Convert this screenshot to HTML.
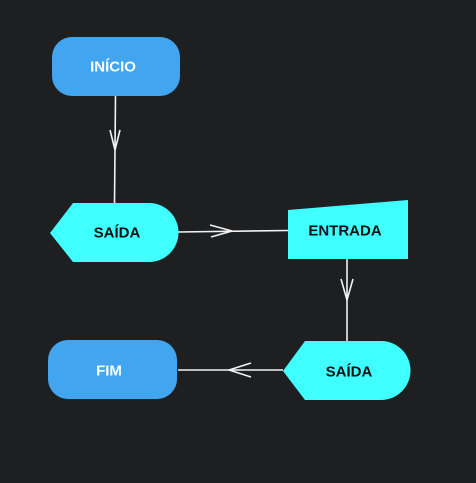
<!DOCTYPE html>
<html><head><style>
html,body{margin:0;padding:0;background:#1e1f21;width:476px;height:483px;overflow:hidden}
svg text{font-family:"Liberation Sans","DejaVu Sans",sans-serif;font-weight:bold;font-size:15px;text-anchor:middle;dominant-baseline:central}
</style></head><body>
<svg width="476" height="483" viewBox="0 0 476 483">
<rect width="476" height="483" fill="#1e1f21"/>
<g stroke="#f2f2f2" stroke-width="1.6" fill="none">
<line x1="115.5" y1="96" x2="114.5" y2="203"/>
<polyline points="110,130 115,150 120,130"/>
<line x1="178" y1="232" x2="288" y2="230.5"/>
<polyline points="210,225 232,231 211,237"/>
<line x1="347" y1="259" x2="347" y2="341"/>
<polyline points="341,279 347,300 353,279"/>
<line x1="283" y1="370" x2="178" y2="370"/>
<polyline points="251,363 229,370 251,377"/>
</g>
<rect x="52" y="37" width="128" height="59" rx="20" fill="#42a5f0"/>
<text x="113" y="67" fill="#fff">INÍCIO</text>
<path d="M50,233 L73,203 L149,203 A29.5,29.5 0 0 1 149,262 L73,262 Z" fill="#40ffff"/>
<text x="117" y="233" fill="#111">SAÍDA</text>
<path d="M288,210 L408,200 L408,259 L288,259 Z" fill="#40ffff"/>
<text x="345" y="231" fill="#111">ENTRADA</text>
<path d="M283,371 L305,341 L381,341 A29.5,29.5 0 0 1 381,400 L305,400 Z" fill="#40ffff"/>
<text x="349" y="372" fill="#111">SAÍDA</text>
<rect x="48" y="340" width="129" height="59" rx="20" fill="#42a5f0"/>
<text x="109" y="371" fill="#fff">FIM</text>
</svg>
</body></html>
